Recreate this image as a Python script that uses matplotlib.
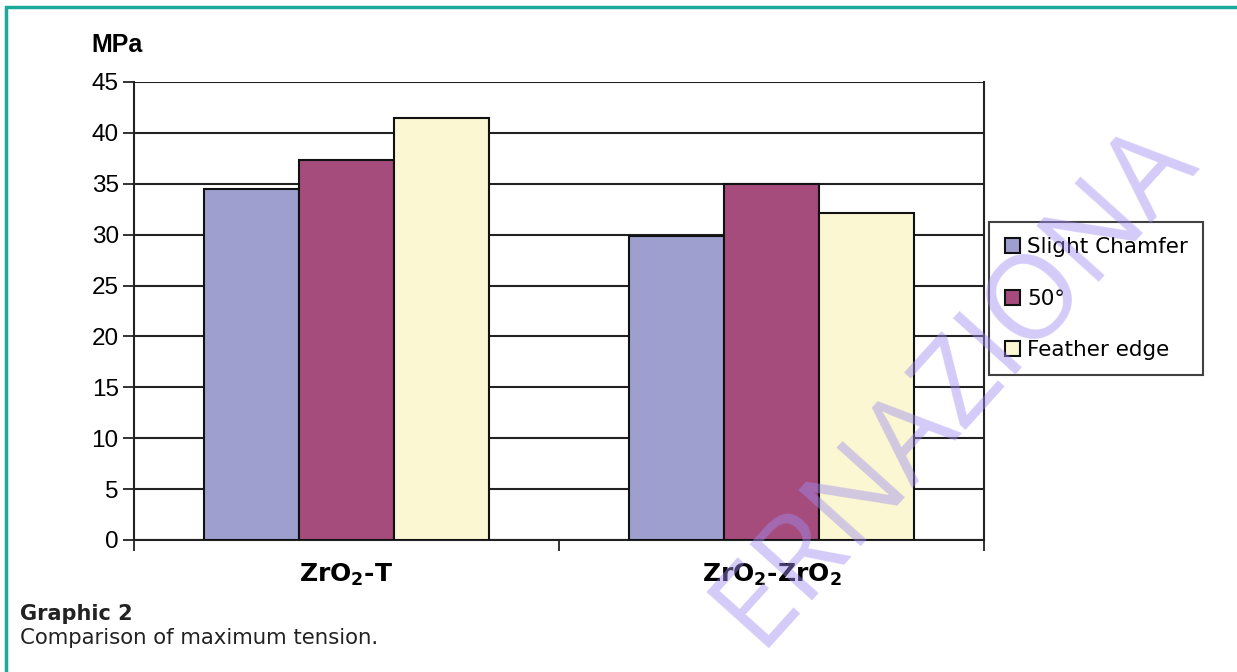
import matplotlib
matplotlib.use("Agg")
import matplotlib.pyplot as plt
from matplotlib.patches import Patch, Rectangle
import numpy as np

categories = [r"ZrO$_{\mathbf{2}}$-T", r"ZrO$_{\mathbf{2}}$-ZrO$_{\mathbf{2}}$"]
series = ["Slight Chamfer", "50°", "Feather edge"]
slight_chamfer = [34.5, 29.9]
deg50 = [37.3, 35.0]
feather_edge = [41.5, 32.1]
yticks = [0, 5, 10, 15, 20, 25, 30, 35, 40, 45]
colors = ["#9e9fce", "#a54c7d", "#faf7d2"]
watermark = "ERNAZIONA"

W, H = 1237, 672
fig = plt.figure(figsize=(W / 100, H / 100), dpi=100)
fig.patch.set_facecolor("white")

def fx(px):
    return px / W

def fy(py):
    return 1 - py / H

ax = fig.add_axes([fx(134), fy(540), fx(984) - fx(134), fy(82) - fy(540)])
x = np.arange(len(categories))
bw = 0.223
for i, (vals, c) in enumerate(zip([slight_chamfer, deg50, feather_edge], colors)):
    ax.bar(x + (i - 1) * bw, vals, bw, color=c, edgecolor="#111111", linewidth=1.5, zorder=3)

ax.set_xlim(-0.5, 1.5)
ax.set_ylim(0, 45)
ax.set_yticks(yticks)
ax.set_yticklabels([str(v) for v in yticks], fontsize=17.5, family="Liberation Sans")
ax.yaxis.grid(True, color="#222222", linewidth=1.5, zorder=0)
ax.set_axisbelow(True)
ax.tick_params(axis="y", length=8, width=1.3, color="#222222", pad=3)
ax.set_xticks(x)
ax.set_xticklabels(categories, fontsize=18, fontweight="bold", family="DejaVu Sans")
ax.tick_params(axis="x", which="major", length=0, pad=16)
ax.set_xticks([-0.5, 0.5, 1.5], minor=True)
ax.tick_params(axis="x", which="minor", length=8, width=1.3, color="#222222")
for s in ["left", "right", "bottom"]:
    ax.spines[s].set_color("#222222")
    ax.spines[s].set_linewidth(1.5)
ax.spines["top"].set_visible(False)

fig.text(fx(91), fy(45), "MPa", fontsize=18, fontweight="bold", family="Liberation Sans",
         ha="left", va="center")

handles = [Patch(facecolor=c, edgecolor="#111111", linewidth=1.5) for c in colors]
leg = fig.legend(handles, series, loc="upper left",
                 bbox_to_anchor=(fx(989), fy(222)), bbox_transform=fig.transFigure,
                 prop={"family": "DejaVu Sans", "size": 15.5},
                 frameon=True, fancybox=False, edgecolor="#111111",
                 handlelength=0.7, handleheight=0.7, handletextpad=0.35,
                 labelspacing=1.45, borderpad=0.72, borderaxespad=0)
leg.get_frame().set_linewidth(1.5)

fig.text(fx(20), fy(614), "Graphic 2", fontsize=15, fontweight="bold", family="DejaVu Sans",
         ha="left", va="center", color="#222222")
fig.text(fx(20), fy(638), "Comparison of maximum tension.", fontsize=15.3, family="DejaVu Sans",
         ha="left", va="center", color="#222222")

# page border
fig.patches.append(Rectangle((5.5, -50), 2000, H - 6.5 + 50, transform=None,
                             fill=False, edgecolor="#1aa99a", linewidth=2.5, zorder=10))

# watermark
fig.text(fx(955), fy(384), watermark, fontsize=85, family="Open Sans",
         rotation=48, rotation_mode="anchor", ha="center", va="center",
         color="#a08cf0", alpha=0.45, zorder=20)

fig.savefig("out.png", dpi=100)
